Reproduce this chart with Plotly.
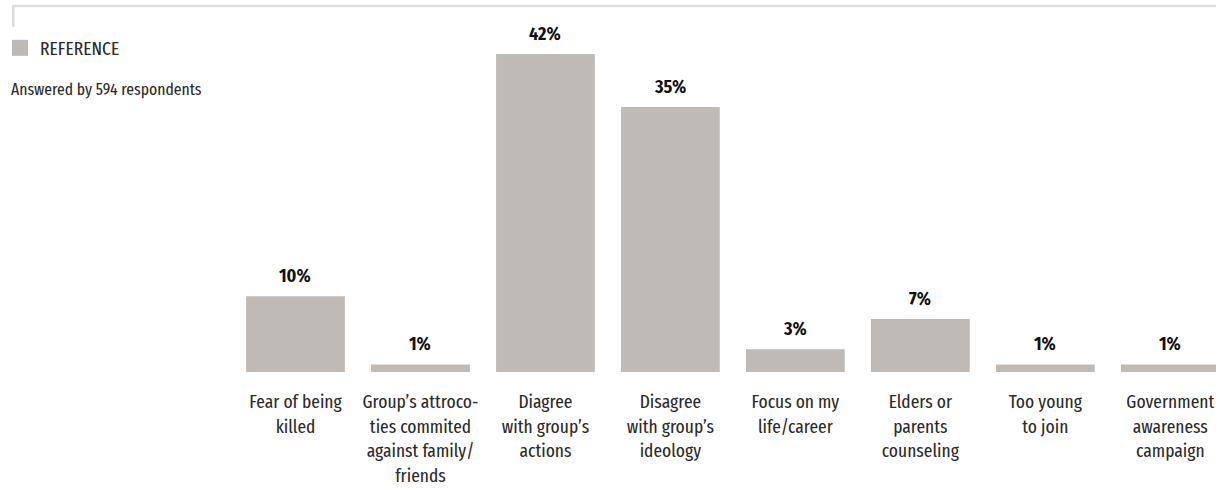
import plotly.graph_objects as go

categories = [
    "Fear of being<br>killed",
    "Group’s attroco-<br>ties commited<br>against family/<br>friends",
    "Diagree<br>with group’s<br>actions",
    "Disagree<br>with group’s<br>ideology",
    "Focus on my<br>life/career",
    "Elders or<br>parents<br>counseling",
    "Too young<br>to join",
    "Government<br>awareness<br>campaign",
]
values = [10, 1, 42, 35, 3, 7, 1, 1]
series_name = "REFERENCE"
note = "Answered by 594 respondents"

BAR = "#bfbab6"
TXT = "#2b2b2b"
FONT = "Fira Sans Extra Condensed, Fira Sans Condensed, Roboto Condensed, sans-serif"
BOLD_FONT = "Fira Sans Condensed, Roboto Condensed, sans-serif"

W, H = 1216, 488
ml, mr, mt, mb = 232, 0, 31, 116
pw = W - ml - mr
ph = H - mt - mb

fig = go.Figure()
fig.add_trace(go.Bar(
    x=list(range(len(categories))), y=values, marker=dict(color=BAR, line=dict(width=0)),
    showlegend=False, hoverinfo="skip",
))
fig.add_trace(go.Scatter(
    x=[None], y=[None], mode="markers", name=series_name,
    marker=dict(symbol="square", size=16, color=BAR),
))

for i, v in enumerate(values):
    fig.add_annotation(x=i, y=v, text=f"<b>{v}%</b>", showarrow=False,
                       yanchor="bottom", yshift=7,
                       font=dict(family=BOLD_FONT, size=18, color="#111111"))

fig.add_annotation(xref="paper", yref="paper", x=(10 - ml) / pw, y=(H - mb - 90) / ph,
                   xanchor="left", yanchor="middle", text=note, showarrow=False,
                   xshift=-2,
                   font=dict(family=FONT, size=17, color=TXT, weight=400))

# frame decoration
fig.add_shape(type="line", xref="paper", yref="paper",
              x0=(11 - ml) / pw, x1=1.0, y0=(H - mb - 6) / ph, y1=(H - mb - 6) / ph,
              line=dict(color="#dddddd", width=2.5))
fig.add_shape(type="line", xref="paper", yref="paper",
              x0=(12 - ml) / pw, x1=(12 - ml) / pw, y0=(H - mb - 5) / ph, y1=(H - mb - 27) / ph,
              line=dict(color="#dddddd", width=2.5))

fig.update_layout(
    width=W, height=H,
    margin=dict(l=ml, r=mr, t=mt, b=mb, pad=0),
    paper_bgcolor="white", plot_bgcolor="white",
    bargap=0.21,
    font=dict(family=FONT, color=TXT),
    legend=dict(x=(-1.5 - ml) / pw, y=(H - mb - 29) / ph, xanchor="left", yanchor="top",
                font=dict(family=FONT, size=19, color=TXT, weight=400), itemwidth=30,
                bgcolor="rgba(0,0,0,0)", borderwidth=0),
    xaxis=dict(range=[-0.5, -0.5 + pw / 125.1], tickmode="array",
               tickvals=list(range(len(categories))), ticktext=categories,
               showgrid=False, zeroline=False, showline=False, ticks="",
               ticklabelstandoff=16, ticklabeloverflow="allow",
               tickfont=dict(family=FONT, size=19, color=TXT, weight=400), fixedrange=True),
    yaxis=dict(range=[0, ph / 7.57], visible=False, fixedrange=True),
)

fig.write_html("out.html", config={"displayModeBar": False},
               post_script="document.body.style.margin='0';document.body.style.padding='0';")
